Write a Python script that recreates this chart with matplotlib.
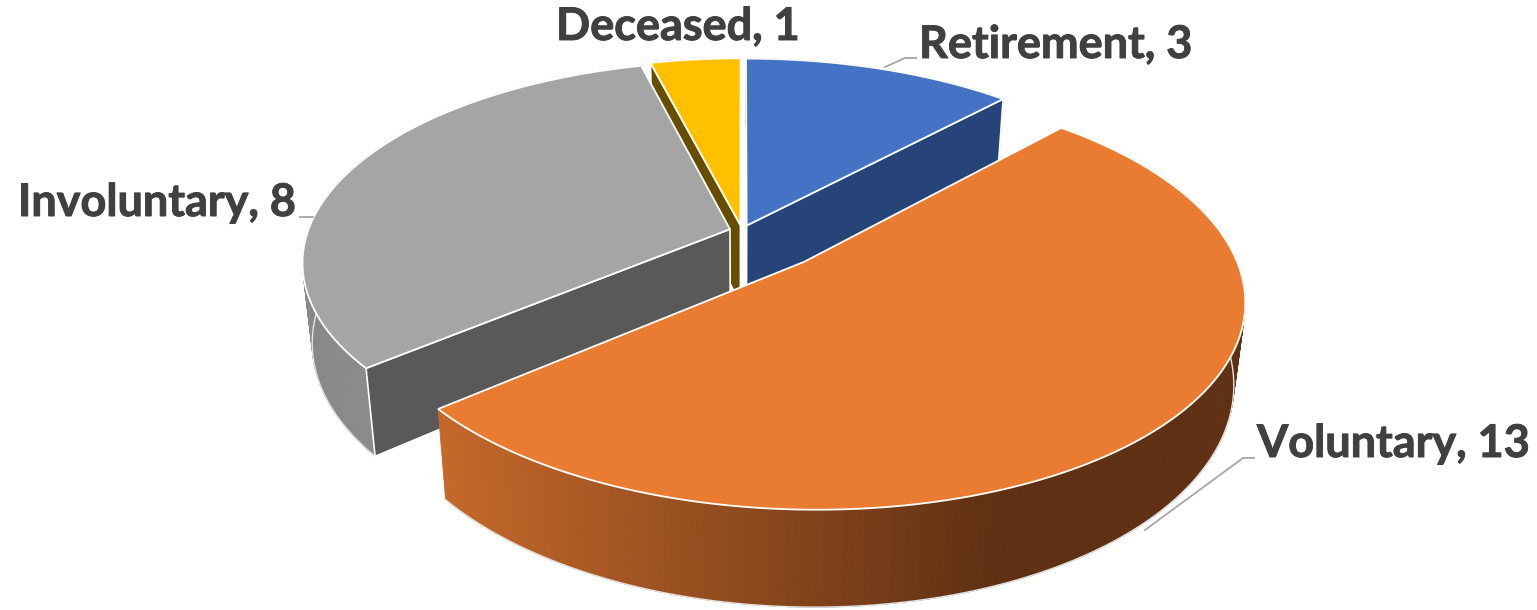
import numpy as np
import matplotlib
matplotlib.use("Agg")
import matplotlib.pyplot as plt
import matplotlib.patheffects as pe
from matplotlib.patches import Polygon
from matplotlib.colors import to_rgb

categories = ["Retirement", "Voluntary", "Involuntary", "Deceased"]
values = [3, 13, 8, 1]
explode = [0.03, 0.21, 0.03, 0.03]
top_colors = ["#4472C4", "#EA7C31", "#A5A5A5", "#FFC000"]
wall_colors = ["#264478", "#5F3013", "#595959", "#664D00"]
side_left = ["#264478", "#C4682A", "#888888", "#664D00"]
side_right = ["#264478", "#5F3013", "#8C8C8C", "#664D00"]
visible_walls = [[-1], [], [0], [0]]
draw_order = [0, 3, 2, 1]

CX, CY, A, B, K, D, M = 742.0, 231.0, 422.0, 196.0, 0.164, 79.0, 0.022
W, H, DPI = 1537, 610, 100
FS = 32.4
TEXT = "#404040"

fig = plt.figure(figsize=(W / DPI, H / DPI), dpi=DPI, facecolor="white")
ax = fig.add_axes([0, 0, 1, 1])
ax.set_xlim(0, W)
ax.set_ylim(H, 0)
ax.axis("off")


def project(u, v, h=0.0):
    w = 1 - K * np.asarray(v)
    return CX + A * np.asarray(u) / (w + M * h), CY + (B * np.asarray(v) + D * h) / w


def mix(c1, c2, t):
    a, b = np.array(to_rgb(c1)), np.array(to_rgb(c2))
    return tuple(a + (b - a) * np.clip(t, 0, 1))


fractions = np.array(values, dtype=float) / sum(values)
ends = np.cumsum(fractions) * 2 * np.pi
starts = ends - fractions * 2 * np.pi

z = 1
for i in draw_order:
    s, e = starts[i], ends[i]
    mid = (s + e) / 2
    ou, ov = explode[i] * np.sin(mid), -explode[i] * np.cos(mid)
    th = np.linspace(s, e, 240)
    u, v = ou + np.sin(th), ov - np.cos(th)
    tx, ty = project(u, v)
    bx, by = project(u, v, 1.0)
    ax_, ay_ = project(ou, ov)
    bx_, by_ = project(ou, ov, 1.0)
    # outer side wall, painted from back to front
    x0, x1 = (445.0, 1000.0) if i == 1 else (310.0, 375.0)
    for j in np.argsort(v[:-1]):
        c = mix(side_left[i], side_right[i], (tx[j] - x0) / (x1 - x0))
        ax.add_patch(Polygon([(tx[j], ty[j]), (tx[j + 1], ty[j + 1]), (bx[j + 1], by[j + 1]), (bx[j], by[j])],
                             closed=True, facecolor=c, edgecolor=c, lw=0.6, zorder=z))
    z += 1
    # only the front part of the lower rim is a visible silhouette
    front = v > ov
    if front.any():
        ax.plot(bx[front], by[front], color="#E4E4E4", lw=1.0, zorder=z)
    z += 1
    # radial cut walls facing the viewer
    for k in visible_walls[i]:
        ax.add_patch(Polygon([(ax_, ay_), (tx[k], ty[k]), (bx[k], by[k]), (bx_, by_)], closed=True,
                             facecolor=wall_colors[i], edgecolor="white", lw=1.2, zorder=z))
        z += 1
    # top face
    ax.add_patch(Polygon(np.column_stack([np.r_[ax_, tx], np.r_[ay_, ty]]), closed=True,
                         facecolor=top_colors[i], edgecolor="white", lw=1.3, joinstyle="miter", zorder=z))
    z += 1

labels = [f"{c}, {v}" for c, v in zip(categories, values)]
label_pos = [(919, 45), (1257, 444), (18, 203), (556, 27)]
for t, (x, y) in zip(labels, label_pos):
    ax.text(x, y, t, fontsize=FS, fontweight="bold", family="Lato", color=TEXT,
            ha="left", va="center", zorder=z + 2,
            path_effects=[pe.withStroke(linewidth=0.7, foreground=TEXT)])

leaders = [[(885, 67), (905, 58), (916, 58)],
           [(1145, 530), (1243, 458), (1254, 458)],
           [(313, 217), (300, 217)]]
for pts in leaders:
    xs, ys = zip(*pts)
    ax.plot(xs, ys, color="#A6A6A6", lw=1.3, zorder=z + 1)

fig.savefig("out.png", dpi=DPI, facecolor="white")
